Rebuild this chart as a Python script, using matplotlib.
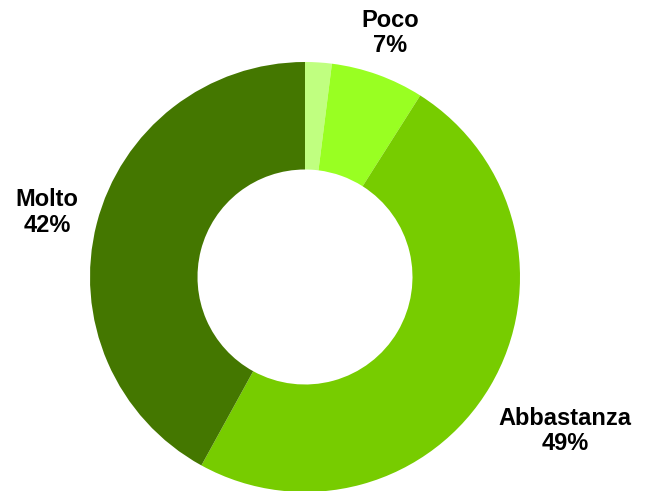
import matplotlib
matplotlib.use("Agg")
import matplotlib.pyplot as plt

categories = ["Per niente", "Poco", "Abbastanza", "Molto"]
values = [2, 7, 49, 42]
show_label = [False, True, True, True]
colors = ["#c0ff80", "#99ff22", "#77cc00", "#447700"]

# label anchor positions (data units, radius = 1)
label_pos = [None, (0.395, 1.135), (1.21, -0.715), (-1.2, 0.30)]

fig = plt.figure(figsize=(6.47, 4.91), dpi=100)
ax = fig.add_axes([0, 0, 1, 1])
ax.pie(values, colors=colors, startangle=90, counterclock=False,
       radius=1.0, wedgeprops=dict(width=0.5, linewidth=0))
ax.set_xlim(-305 / 215, (647 - 305) / 215)
ax.set_ylim(-(491 - 277) / 215, 277 / 215)
ax.set_aspect("equal")
ax.axis("off")

total = sum(values)
for cat, v, show, pos in zip(categories, values, show_label, label_pos):
    if not show:
        continue
    pct = round(100 * v / total)
    ax.text(pos[0], pos[1], f"{cat}\n{pct}%", ha="center", va="center",
            fontsize=17, fontweight="bold", family="Liberation Sans",
            linespacing=1.12, color="black")

fig.savefig("out.png", dpi=100)
